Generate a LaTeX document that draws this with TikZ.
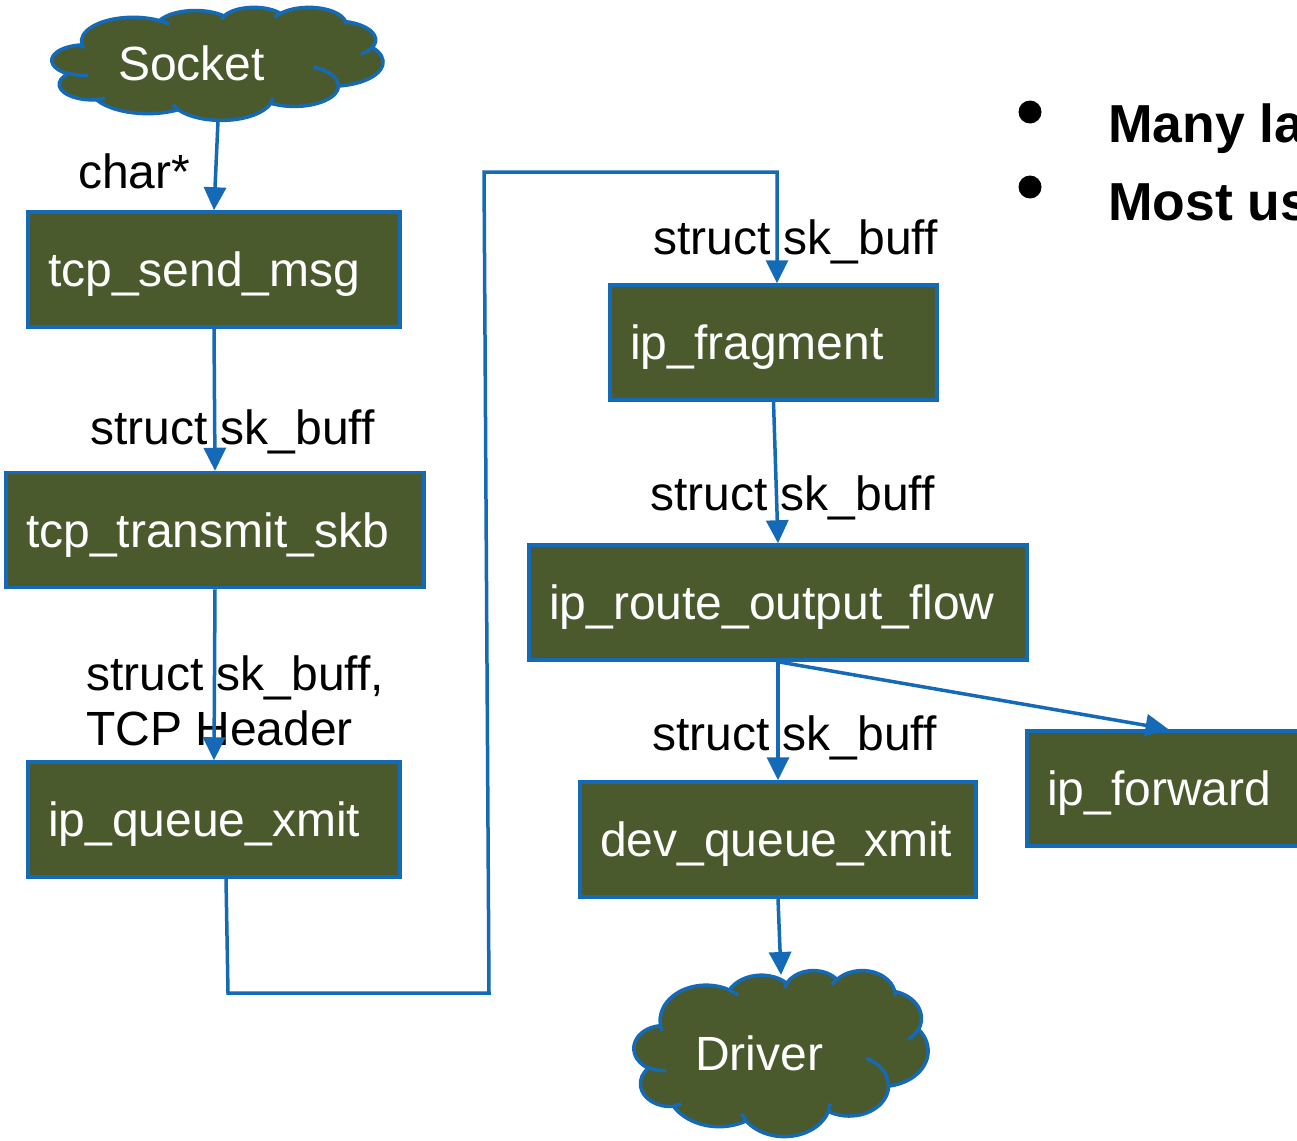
\documentclass[tikz,border=0pt]{standalone}
\usepackage{fontspec}
\setmainfont{Liberation Sans}
\usetikzlibrary{arrows.meta}
\definecolor{boxfill}{RGB}{74,90,45}
\definecolor{lineblue}{RGB}{21,106,183}
\tikzset{
  fnbox/.style={draw=lineblue, line width=3.5pt, fill=boxfill, text=white,
    inner xsep=20pt, inner ysep=0pt, minimum height=115pt,
    text height=34pt, text depth=0pt, align=left,
    font=\fontsize{48}{55}\selectfont},
  cloudline/.style={draw=lineblue, line width=3.5pt, line join=round},
  cloudtext/.style={text=white, anchor=base west, inner sep=0pt,
    font=\fontsize{48}{55}\selectfont},
  lbl/.style={anchor=base west, inner sep=0pt, font=\fontsize{48}{55}\selectfont},
  bul/.style={anchor=base west, inner sep=0pt, font=\fontsize{53.5}{60}\selectfont\bfseries},
  dot/.style={circle, fill=black, minimum size=23pt, inner sep=0pt},
  flow/.style={draw=lineblue, line width=3.5pt, -{Triangle[length=23pt,width=22pt]}},
}
% DrawingML style elliptical arc: radii, visual start angle, visual sweep
\newcommand\pptcalc[4]{%
  \pgfmathparse{#3+mod(atan2(#1*sin(#3),#2*cos(#3))-(#3)+540,360)-180}\xdef\pptA{\pgfmathresult}%
  \pgfmathparse{#3+#4+mod(atan2(#1*sin(#3+#4),#2*cos(#3+#4))-(#3+#4)+540,360)-180}\xdef\pptB{\pgfmathresult}}
\newcommand\pptarc[4]{\pgfextra{\pptcalc{#1}{#2}{#3}{#4}} arc[x radius=#1, y radius=#2, start angle=\pptA, end angle=\pptB]}
% cloud in a 4320 x 4320 box; #1,#2 top-left, #3,#4 unit vectors (pt)
\newcommand\pptcloud[4]{%
  \begin{scope}[shift={(#1,#2)}, x={(#3pt,0pt)}, y={(0pt,-#4pt)}]
    \draw[cloudline, fill=boxfill] (390,1437)
      \pptarc{675.3}{919.0}{-190.4875}{123.7805}
      \pptarc{533.3}{726.7}{-144.1024}{89.9452}
      \pptarc{436.5}{594.5}{-145.8079}{99.7230}
      \pptarc{485.7}{659.5}{-130.9861}{117.2417}
      \pptarc{533.3}{727.3}{-78.7089}{109.0269}
      \pptarc{677.5}{922.0}{-46.2673}{130.2690}
      \pptarc{578.5}{786.7}{0.6250}{114.0333}
      \pptarc{675.2}{921.5}{22.4516}{115.1726}
      \pptarc{772.0}{1054.3}{66.2426}{75.7110}
      \pptarc{436.0}{591.8}{-274.9421}{146.7356}
      \pptarc{434.5}{594.5}{-246.8285}{152.5189}
      -- cycle;
    \draw[cloudline] (469.3,2617.7) \pptarc{434.5}{594.5}{86.7420}{26.4295};
    \draw[cloudline] (692.8,3489.9) \pptarc{436.0}{591.8}{73.6105}{11.4475};
    \draw[cloudline] (1647.8,3909.0) \pptarc{675.2}{921.5}{137.6242}{14.0811};
    \draw[cloudline] (2882.7,3475.1) \pptarc{675.2}{921.5}{6.4533}{15.9984};
    \draw[cloudline] (3412.9,2295.4) \pptarc{578.5}{786.7}{-70.2924}{70.9174};
    \draw[cloudline] (4179.8,1535.4) \pptarc{533.3}{727.3}{30.3180}{27.7515};
    \draw[cloudline] (3832.4,542.6) \pptarc{485.7}{659.5}{-13.7443}{14.8589};
    \draw[cloudline] (2907.8,395.2) \pptarc{485.7}{659.5}{-149.1815}{18.1954};
    \draw[cloudline] (2214.1,472.0) \pptarc{436.5}{594.5}{-163.4943}{17.6864};
    \draw[cloudline] (1400.0,519.2) \pptarc{675.3}{919.0}{-66.7070}{12.3194};
    \draw[cloudline] (412.7,1578.9) \pptarc{675.3}{919.0}{151.8452}{13.5518};
  \end{scope}}
\begin{document}
\begin{tikzpicture}[x=1pt,y=-1pt]
\useasboundingbox (0,0) rectangle (1297,1140);
\clip (0,0) rectangle (1297,1140);

% clouds
\pptcloud{52}{7}{0.076620}{0.026157}
\pptcloud{634}{970}{0.068056}{0.038426}
\node[cloudtext] (socket) at (118,80) {Socket};
\node[cloudtext] (driver) at (695,1070) {Driver};
\coordinate (sockbot) at (218,121);
\coordinate (drvtop) at (781,975);

% function boxes
\node[fnbox, minimum width=372pt, text width=332pt] (send) at (214,269.5) {tcp\_send\_msg};
\node[fnbox, minimum width=418pt, text width=378pt] (transmit) at (215,530) {tcp\_transmit\_skb};
\node[fnbox, minimum width=372pt, text width=332pt] (queue) at (214,819.5) {ip\_queue\_xmit};
\node[fnbox, minimum width=327pt, text width=287pt] (frag) at (773.5,342.5) {ip\_fragment};
\node[fnbox, minimum width=498pt, text width=458pt] (route) at (778,602.5) {ip\_route\_output\_flow};
\node[fnbox, minimum width=396pt, text width=356pt] (dev) at (778,839.5) {dev\_queue\_xmit};
\node[fnbox, minimum width=313pt, text width=273pt] (fwd) at (1183.5,788.5) {ip\_forward};

% labels
\node[lbl] (lchar) at (78,188) {char*};
\node[lbl] (lsend) at (90,444) {struct sk\_buff};
\node[lbl] (ltrans1) at (86,690) {struct sk\_buff,};
\node[lbl] (ltrans2) at (86,745) {TCP Header};
\node[lbl] (lfrag) at (653,254) {struct sk\_buff};
\node[lbl] (lroute) at (650,510) {struct sk\_buff};
\node[lbl] (ldev) at (652,750) {struct sk\_buff};

% bullets
\node[dot] (dot1) at (1030,112) {};
\node[dot] (dot2) at (1030,187) {};
\node[bul] (b1) at (1108,142) {Many la};
\node[bul] (b2) at (1108,220) {Most us};

% connectors
\draw[flow] (sockbot) -- (send.north);
\draw[flow] (send.south) -- (transmit.north);
\draw[flow] (transmit.south) -- (queue.north);
\draw[flow] ([xshift=12pt]queue.south) -- (228,993) -- (489,993) -- (484,172) -- (777,172) -- ([xshift=3.5pt]frag.north);
\draw[flow] (frag.south) -- (route.north);
\draw[flow] (route.south) -- (dev.north);
\draw[flow] (route.south) -- ([xshift=-15pt]fwd.north);
\draw[flow] (dev.south) -- (drvtop);
\end{tikzpicture}
\end{document}
